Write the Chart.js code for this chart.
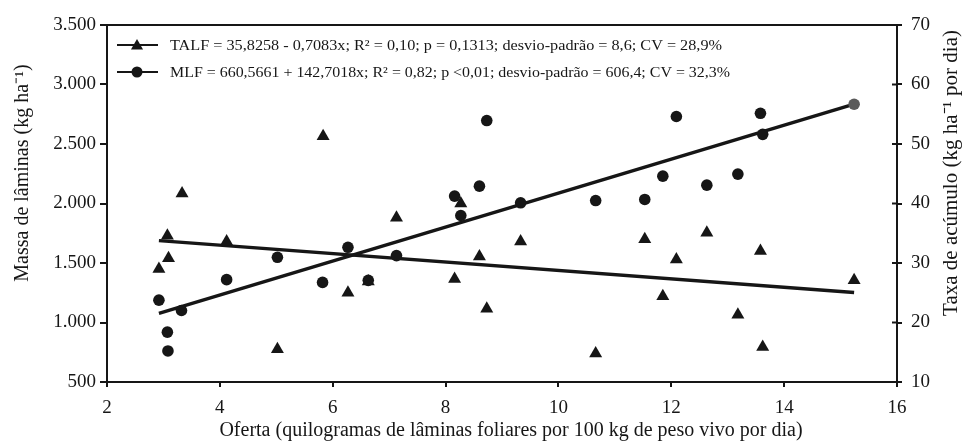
<!DOCTYPE html>
<html>
<head>
<meta charset="utf-8">
<script src="https://cdn.jsdelivr.net/npm/chart.js@4.4.0/dist/chart.umd.min.js"></script>
<style>
  body { margin: 0; background: #fff; }
</style>
</head>
<body>
<canvas id="chart" width="964" height="444"></canvas>
<script>
// TALF - taxa de acumulo (eixo direito)
var talfX = [2.92, 3.07, 3.09, 3.33, 4.12, 5.02, 5.83, 6.27, 6.63, 7.13, 8.16, 8.27, 8.60, 8.73, 9.33, 10.66, 11.53, 11.85, 12.09, 12.63, 13.18, 13.58, 13.62, 15.24];
var talfY = [29.0, 34.6, 30.8, 41.7, 33.6, 15.5, 51.3, 25.0, 26.9, 37.6, 27.3, 40.0, 31.1, 22.3, 33.6, 14.8, 34.0, 24.4, 30.6, 35.1, 21.3, 32.0, 15.9, 27.1];
// MLF - massa de laminas (eixo esquerdo)
var mlfX = [2.92, 3.07, 3.08, 3.32, 4.12, 5.02, 5.82, 6.27, 6.63, 7.13, 8.16, 8.27, 8.60, 8.73, 9.33, 10.66, 11.53, 11.85, 12.09, 12.63, 13.18, 13.58, 13.62, 15.24];
var mlfY = [1188, 919, 761, 1101, 1360, 1548, 1337, 1632, 1354, 1562, 2062, 1899, 2146, 2697, 2006, 2025, 2034, 2230, 2731, 2154, 2247, 2758, 2581, 2834];
// retas de regressao (extremos)
var talfLineX = [2.92, 15.24];
var talfLineY = [33.76, 25.03];
var mlfLineX = [2.92, 15.24];
var mlfLineY = [1077, 2835];

var xTicks = [2, 4, 6, 8, 10, 12, 14, 16];
var leftTicks = [500, 1000, 1500, 2000, 2500, 3000, 3500];
var rightTicks = [10, 20, 30, 40, 50, 60, 70];

var legendTexts = [
  "TALF = 35,8258 - 0,7083x; R\u00b2 = 0,10; p = 0,1313; desvio-padr\u00e3o = 8,6; CV = 28,9%",
  "MLF = 660,5661 + 142,7018x; R\u00b2 = 0,82; p <0,01; desvio-padr\u00e3o = 606,4; CV = 32,3%"
];
var xTitle = "Oferta (quilogramas de l\u00e2minas foliares por 100 kg de peso vivo por dia)";
var yTitle = "Massa de l\u00e2minas (kg ha\u207b\u00b9)";
var y2Title = "Taxa de ac\u00famulo (kg ha\u207b\u00b9 por dia)";

var FONT = "'Liberation Serif', 'Times New Roman', serif";
var INK = "#161616";

function pts(xs, ys) {
  var out = [];
  for (var i = 0; i < xs.length; i++) out.push({ x: xs[i], y: ys[i] });
  return out;
}
function milhar(v) {
  return String(v).replace(/\B(?=(\d{3})+(?!\d))/g, '.');
}

var mlfColors = mlfY.map(function (v, i) { return i === mlfY.length - 1 ? "#5a5a5a" : INK; });

var extras = {
  id: 'extras',
  afterDraw: function (chart) {
    var ctx = chart.ctx, a = chart.chartArea;
    ctx.save();
    // borda superior
    ctx.strokeStyle = INK;
    ctx.lineWidth = 2;
    ctx.beginPath();
    ctx.moveTo(a.left - 1, a.top);
    ctx.lineTo(a.right + 1, a.top);
    ctx.stroke();
    // marcas internas do eixo direito
    var y2 = chart.scales.y2;
    rightTicks.forEach(function (t) {
      var py = y2.getPixelForValue(t);
      ctx.beginPath();
      ctx.moveTo(a.right - 5, py);
      ctx.lineTo(a.right, py);
      ctx.stroke();
    });

    // legenda
    var rows = [45, 72];
    var widths = [552, 560];
    var styles = ['triangle', 'circle'];
    var radii = [7, 5.5];
    ctx.font = "15px " + FONT;
    ctx.textBaseline = 'middle';
    ctx.textAlign = 'left';
    for (var i = 0; i < 2; i++) {
      ctx.strokeStyle = INK;
      ctx.lineWidth = 2;
      ctx.beginPath();
      ctx.moveTo(117, rows[i]);
      ctx.lineTo(158, rows[i]);
      ctx.stroke();
      ctx.fillStyle = INK;
      Chart.helpers.drawPoint(ctx, { pointStyle: styles[i], radius: radii[i], borderWidth: 0 }, 137, rows[i] + (i === 0 ? 1 : 0));
      var w = ctx.measureText(legendTexts[i]).width;
      ctx.save();
      ctx.translate(170, rows[i] + 1);
      ctx.scale(widths[i] / w, 1);
      ctx.fillText(legendTexts[i], 0, 0);
      ctx.restore();
    }

    // titulos dos eixos
    ctx.fillStyle = INK;
    ctx.font = "20px " + FONT;
    ctx.textAlign = 'center';
    ctx.fillText(xTitle, 511, 431);
    ctx.save();
    ctx.translate(23, 173);
    ctx.rotate(-Math.PI / 2);
    ctx.fillText(yTitle, 0, 0);
    ctx.restore();
    ctx.save();
    ctx.font = "21px " + FONT;
    ctx.translate(951, 173);
    ctx.rotate(-Math.PI / 2);
    ctx.fillText(y2Title, 0, 0);
    ctx.restore();
    ctx.restore();
  }
};

var axisGrid = { display: true, drawOnChartArea: false, drawTicks: true, color: INK, lineWidth: 2 };

new Chart(document.getElementById('chart').getContext('2d'), {
  type: 'scatter',
  data: {
    datasets: [
      {
        label: 'TALF',
        data: pts(talfX, talfY),
        yAxisID: 'y2',
        pointStyle: 'triangle',
        pointRadius: 7.5,
        pointBorderWidth: 0,
        backgroundColor: INK,
        borderColor: INK,
        order: 1
      },
      {
        label: 'MLF',
        data: pts(mlfX, mlfY),
        yAxisID: 'y',
        pointStyle: 'circle',
        pointRadius: 5.8,
        pointBorderWidth: 0,
        backgroundColor: mlfColors,
        borderColor: mlfColors,
        order: 0
      },
      {
        label: 'TALF reta',
        data: pts(talfLineX, talfLineY),
        yAxisID: 'y2',
        showLine: true,
        pointRadius: 0,
        borderColor: INK,
        borderWidth: 3.5,
        order: 2
      },
      {
        label: 'MLF reta',
        data: pts(mlfLineX, mlfLineY),
        yAxisID: 'y',
        showLine: true,
        pointRadius: 0,
        borderColor: INK,
        borderWidth: 3.5,
        order: 2
      }
    ]
  },
  options: {
    responsive: false,
    animation: false,
    layout: { padding: { top: 25, left: 0, right: 0, bottom: 0 } },
    plugins: {
      legend: { display: false },
      tooltip: { enabled: false }
    },
    scales: {
      x: {
        type: 'linear',
        min: 2, max: 16,
        afterBuildTicks: function (s) { s.ticks = xTicks.map(function (v) { return { value: v }; }); },
        grid: Object.assign({ tickLength: 5 }, axisGrid),
        border: { display: true, color: INK, width: 2 },
        ticks: { color: INK, font: { family: FONT, size: 19 }, padding: 10, maxRotation: 0 },
        afterFit: function (s) { s.height = 62; }
      },
      y: {
        type: 'linear',
        position: 'left',
        min: 500, max: 3500,
        afterBuildTicks: function (s) { s.ticks = leftTicks.map(function (v) { return { value: v }; }); },
        grid: Object.assign({ tickLength: 7 }, axisGrid),
        border: { display: true, color: INK, width: 2 },
        ticks: { color: INK, font: { family: FONT, size: 19 }, padding: 4, callback: milhar },
        afterFit: function (s) { s.width = 107; }
      },
      y2: {
        type: 'linear',
        position: 'right',
        min: 10, max: 70,
        afterBuildTicks: function (s) { s.ticks = rightTicks.map(function (v) { return { value: v }; }); },
        grid: Object.assign({ tickLength: 5 }, axisGrid),
        border: { display: true, color: INK, width: 2 },
        ticks: { color: INK, font: { family: FONT, size: 19 }, padding: 9 },
        afterFit: function (s) { s.width = 67; }
      }
    }
  },
  plugins: [extras]
});
</script>
</body>
</html>
